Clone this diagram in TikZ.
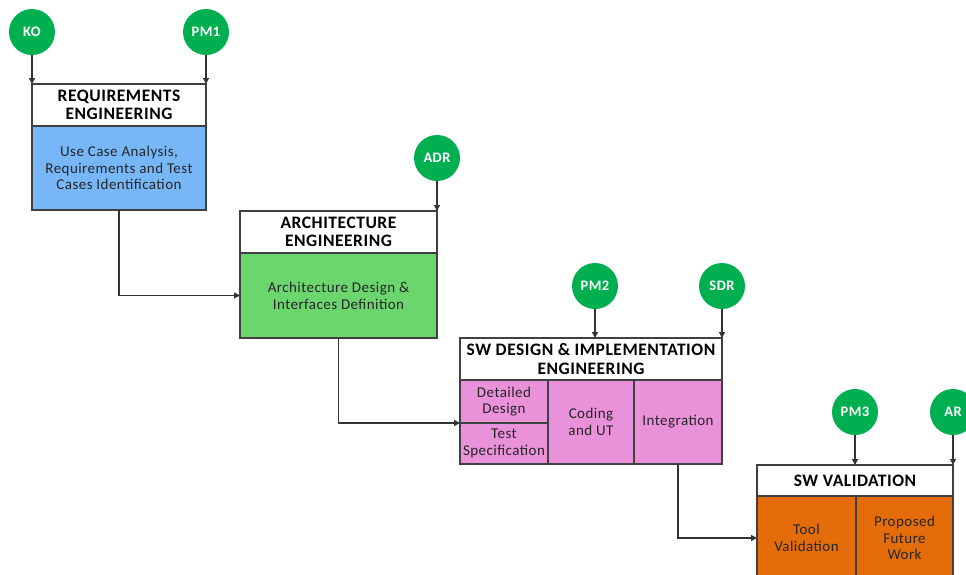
\documentclass[tikz,border=0pt]{standalone}
\usepackage{fontspec}
\setmainfont{Carlito}[LetterSpace=3]
\usetikzlibrary{positioning,arrows.meta}
\definecolor{reqblue}{HTML}{77B7F7}
\definecolor{archgreen}{HTML}{6CD66E}
\definecolor{swpink}{HTML}{E991D9}
\definecolor{valorange}{HTML}{E46C0A}
\definecolor{msgreen}{HTML}{00B050}
\definecolor{edgegray}{HTML}{404040}

\begin{document}
\begin{tikzpicture}[
    x=1pt, y=-1pt,
    phase/.style={draw=edgegray, line width=1.3pt, fill=white, align=center, inner sep=0pt, outer sep=0pt,
        anchor=north west, font=\fontsize{17.5}{18.5}\selectfont\bfseries},
    task/.style={draw=edgegray, line width=1.3pt, align=center, inner sep=0pt, outer sep=0pt, text=black!85,
        font=\fontsize{15}{16.8}\selectfont},
    milestone/.style={circle, fill=msgreen, minimum size=46pt, inner sep=0pt, text=white,
        font=\fontsize{14.5}{16}\selectfont\bfseries},
    flow/.style={-{Triangle[length=6pt,width=6pt]}, line width=1.2pt, draw=black!80} % all connectors
]
    \useasboundingbox (0,0) rectangle (966,574);

    \node [phase, minimum width=174pt, minimum height=42pt] (reqhead) at (32,84) {REQUIREMENTS\\ENGINEERING};
    \node [task, fill=reqblue, minimum width=174pt, minimum height=84pt, below=0pt of reqhead] (reqbody)
        {Use Case Analysis,\\Requirements and Test\\Cases Identification};

    \node [phase, minimum width=197pt, minimum height=42pt] (archhead) at (240,211) {ARCHITECTURE\\ENGINEERING};
    \node [task, fill=archgreen, minimum width=197pt, minimum height=85pt, below=0pt of archhead] (archbody)
        {Architecture Design \&\\Interfaces Definition};

    \node [phase, minimum width=262pt, minimum height=42pt] (sdhead) at (460,338) {SW DESIGN \& IMPLEMENTATION\\ENGINEERING};
    \node [task, fill=swpink, minimum width=88pt, minimum height=43pt, below=0pt of sdhead.south west, anchor=north west] (dd) {Detailed\\Design};
    \node [task, fill=swpink, minimum width=88pt, minimum height=41pt, below=0pt of dd] (ts) {Test\\Specification};
    \node [task, fill=swpink, minimum width=86pt, minimum height=84pt, right=0pt of dd.north east, anchor=north west] (code) {Coding\\and UT};
    \node [task, fill=swpink, minimum width=88pt, minimum height=84pt, right=0pt of code] (integ) {Integration};

    \node [phase, minimum width=196pt, minimum height=31pt] (valhead) at (757,465) {SW VALIDATION};
    \node [task, fill=valorange, minimum width=99pt, minimum height=84pt, below=0pt of valhead.south west, anchor=north west] (tool) {Tool\\Validation};
    \node [task, fill=valorange, minimum width=97pt, minimum height=84pt, right=0pt of tool] (future) {Proposed\\Future\\Work};

    \node [milestone] (ko) at (32,32) {KO};
    \node [milestone] (pm1) at (206,32) {PM1};
    \node [milestone] (adr) at (437,158) {ADR};
    \node [milestone] (pm2) at (595,286) {PM2};
    \node [milestone] (sdr) at (722,286) {SDR};
    \node [milestone] (pm3) at (855,412) {PM3};
    \node [milestone] (ar) at (953,412) {AR};

    \draw [flow] (ko) -- (reqhead.north west);
    \draw [flow] (pm1) -- (reqhead.north east);
    \draw [flow] (adr) -- (archhead.north east);
    \draw [flow] (pm2) -- (pm2 |- sdhead.north);
    \draw [flow] (sdr) -- (sdhead.north east);
    \draw [flow] (pm3) -- (pm3 |- valhead.north);
    \draw [flow] (ar) -- (valhead.north east);

    \draw [flow] (reqbody.south) |- (archbody.west);
    \draw [flow] (archbody.south) |- (ts.north west);
    \draw [flow] (integ.south) |- (tool.west);
\end{tikzpicture}
\end{document}
